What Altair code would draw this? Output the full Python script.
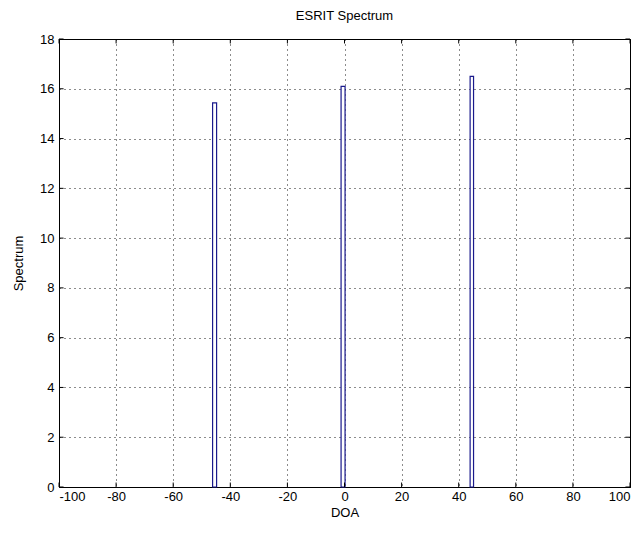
import altair as alt
import pandas as pd

# Spectrum peaks (DOA range of each narrow spike and its height)
peak_start = [-46.2, -1.2, 44.0]
peak_end = [-44.8, 0.2, 45.2]
peak_height = [15.43, 16.1, 16.5]

x_ticks = [-100, -80, -60, -40, -20, 0, 20, 40, 60, 80, 100]
y_ticks = [0, 2, 4, 6, 8, 10, 12, 14, 16, 18]

df = pd.DataFrame({"x": peak_start, "x2": peak_end, "y": peak_height})

FONT = "Liberation Sans"

x_scale = alt.Scale(domain=[-100, 100], nice=False, zero=False)
y_scale = alt.Scale(domain=[0, 18], nice=False)

common = dict(grid=True, gridDash=[1, 4], gridColor="black", gridOpacity=0.9,
              gridWidth=1, domainColor="black", ticks=False,
              labelFont=FONT, labelFontSize=13, labelColor="black",
              labelExpr="'' + datum.value",
              titleFont=FONT, titleFontSize=13, titleColor="black",
              titleFontWeight="normal")

bars = alt.Chart(df).mark_rect(
    fill="white", stroke="#1a1a8c", strokeWidth=1.2
).encode(
    x=alt.X("x:Q", scale=x_scale, title="DOA",
            axis=alt.Axis(values=x_ticks, labelPadding=3, titlePadding=3, **common)),
    x2="x2:Q",
    y=alt.Y("y:Q", scale=y_scale, title="Spectrum",
            axis=alt.Axis(values=y_ticks, labelPadding=5, titlePadding=14, **common)),
    y2=alt.Y2(datum=0),
)

# inward tick marks (MATLAB style)
xt = pd.DataFrame({"t": x_ticks})
yt = pd.DataFrame({"t": y_ticks})
tick_style = dict(color="black", strokeWidth=1)
xb = alt.Chart(xt).mark_rule(**tick_style).encode(
    x=alt.X("t:Q", scale=x_scale), y=alt.datum(0), y2=alt.datum(0.18))
xtp = alt.Chart(xt).mark_rule(**tick_style).encode(
    x=alt.X("t:Q", scale=x_scale), y=alt.datum(17.82), y2=alt.datum(18))
yl = alt.Chart(yt).mark_rule(**tick_style).encode(
    y=alt.Y("t:Q", scale=y_scale), x=alt.datum(-100), x2=alt.datum(-98.4))
yr = alt.Chart(yt).mark_rule(**tick_style).encode(
    y=alt.Y("t:Q", scale=y_scale), x=alt.datum(98.4), x2=alt.datum(100))

chart = alt.layer(bars, xb, xtp, yl, yr).properties(
    width=571,
    height=448,
    title=alt.TitleParams("ESRIT Spectrum", font=FONT, fontSize=13,
                          fontWeight="normal", color="black", offset=10),
    autosize=alt.AutoSizeParams(type="none"),
    padding={"left": 51, "top": 31, "right": 5, "bottom": 46},
).configure_view(stroke="black", strokeWidth=1)

chart.save("out.html", embed_options={"renderer": "svg", "actions": False})
